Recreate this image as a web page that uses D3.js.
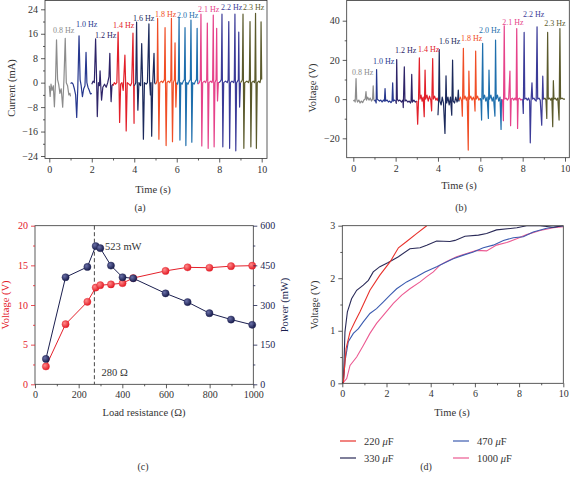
<!DOCTYPE html>
<html><head><meta charset="utf-8">
<script src="https://cdn.jsdelivr.net/npm/d3@7"></script>
<style>
body{margin:0;background:#fff}
svg{display:block}
text{font-family:"Liberation Serif","DejaVu Serif",serif;fill:#333}
</style></head>
<body><svg id="fig" width="570" height="478"></svg>
<script>
// ---------- shared ----------
const freqLabels = ["0.8 Hz","1.0 Hz","1.2 Hz","1.4 Hz","1.6 Hz","1.8 Hz","2.0 Hz","2.1 Hz","2.2 Hz","2.3 Hz"];
const segColors = ["#8c8c8c","#27388f","#2e2468","#e2202a","#1c2a5c","#f04e26","#1f6fad","#e6428a","#3b3b98","#5b5a2c"];

// ---------- (a) current waveforms, [time s, current mA] per frequency ----------
const currentWave = [
 [[0,-1],[0.04,-4.5],[0.08,-0.5],[0.13,-2.5],[0.19,-1],[0.24,-7.9],[0.29,0],[0.34,14],[0.39,1],[0.44,-0.5],[0.5,-3.5],[0.56,-2],[0.63,-8],[0.69,1],[0.75,14.5],[0.8,0],[0.86,-1],[0.92,-4],[0.97,-3.5],[1.0,-4.5]],
 [[1.0,-0.3],[1.06,0],[1.12,-0.5],[1.18,-2],[1.24,-4],[1.29,-11.4],[1.34,-2],[1.4,15.3],[1.45,1],[1.5,-1],[1.56,-4.6],[1.62,-2],[1.68,-1],[1.73,9.9],[1.77,0],[1.82,-1.5],[1.88,-2.5],[1.94,-3.7],[2.0,-3.5]],
 [[2.0,-0.5],[2.06,0.5],[2.12,0],[2.18,14.3],[2.23,0],[2.26,-11.1],[2.31,0],[2.36,-1],[2.39,3.9],[2.43,-2],[2.46,-5.7],[2.52,-1.5],[2.6,-0.5],[2.68,-1.5],[2.75,0],[2.81,2],[2.85,9.6],[2.88,0],[2.91,-6.2],[2.95,-1],[3.0,-0.5]],
 [[3.0,-1],[3.06,0],[3.12,-0.5],[3.18,0],[3.24,16.5],[3.28,1],[3.31,-13],[3.36,-0.5],[3.42,0],[3.48,-2.5],[3.56,9],[3.59,1],[3.62,-15.8],[3.67,0],[3.75,-0.5],[3.82,-1],[3.88,0],[3.94,16.2],[3.97,0],[3.99,-13.3],[4.0,-1]],
 [[4.0,-1],[4.04,-0.5],[4.07,0],[4.11,19.8],[4.14,1],[4.17,-9],[4.22,0],[4.3,-1],[4.35,12.8],[4.39,1],[4.43,-18.5],[4.48,0],[4.56,-0.5],[4.62,0],[4.69,19.2],[4.72,1],[4.76,-4],[4.79,0],[4.82,-17.5],[4.87,0],[4.93,9.6],[4.96,0],[5.0,-0.5]],
 [[5.0,-0.5],[5.05,0],[5.08,1],[5.1,21],[5.13,1],[5.16,-18.5],[5.2,0],[5.28,0.5],[5.34,0],[5.42,1],[5.45,18],[5.47,1],[5.5,-20.6],[5.54,0],[5.6,0.5],[5.67,0],[5.72,1],[5.75,21],[5.77,1],[5.8,-19.3],[5.84,0],[5.89,1],[5.92,13],[5.94,1],[5.96,-8],[6.0,0]],
 [[6.0,0],[6.04,-0.5],[6.08,1],[6.11,21.3],[6.13,1],[6.15,-18.8],[6.19,0],[6.25,-0.5],[6.31,0.5],[6.36,1],[6.39,18],[6.41,1],[6.43,-20.6],[6.47,0],[6.53,-0.5],[6.59,0.5],[6.64,1],[6.67,20.5],[6.69,1],[6.71,-19.5],[6.75,0],[6.82,-0.5],[6.88,0.5],[6.93,1],[6.96,17.8],[6.98,1],[7.0,-0.5]],
 [[7.0,-0.5],[7.06,0],[7.11,1],[7.14,22.4],[7.16,1],[7.18,-20.7],[7.22,0],[7.3,0.5],[7.36,0],[7.41,1],[7.44,19.5],[7.46,1],[7.48,-21.5],[7.52,0],[7.6,0.5],[7.66,0],[7.69,1],[7.72,22.1],[7.74,1],[7.76,-21],[7.8,0],[7.85,1],[7.88,17.8],[7.9,1],[7.92,-6],[7.96,0],[8.0,0]],
 [[8.0,0],[8.06,0.5],[8.1,1],[8.13,22.4],[8.15,1],[8.17,-21],[8.21,0],[8.3,0.5],[8.38,0],[8.42,1],[8.45,20],[8.47,1],[8.49,-21.5],[8.53,0],[8.6,0.5],[8.68,0],[8.71,1],[8.74,22.4],[8.76,1],[8.78,-22.3],[8.82,0],[8.87,0.5],[8.9,1],[8.92,16.5],[8.94,1],[8.96,-8],[9.0,0]],
 [[9.0,0],[9.06,0.5],[9.09,1],[9.12,22.4],[9.14,1],[9.16,-21.5],[9.2,0],[9.3,0.5],[9.38,0],[9.42,1],[9.45,20],[9.47,1],[9.49,-21],[9.53,0],[9.6,0.5],[9.66,0],[9.68,1],[9.71,22.7],[9.73,1],[9.75,-21.5],[9.79,0],[9.86,0.5],[9.92,0],[9.95,1],[9.97,19.9],[10.0,1]]
];
const currentTicks = [-24,-16,-8,0,8,16,24];
const timeTicks = [0,2,4,6,8,10];

// ---------- (b) voltage waveforms, [time s, voltage V] ----------
const voltageWave = [
 [[0,-1],[0.05,-0.5],[0.09,-1.5],[0.13,10.5],[0.16,0],[0.2,-1.5],[0.26,-0.5],[0.32,-2],[0.38,-1],[0.44,-1.8],[0.5,-0.5],[0.56,0],[0.6,3.8],[0.63,-0.5],[0.68,1],[0.74,-0.5],[0.8,0.5],[0.86,-1],[0.91,0],[0.94,6.8],[0.97,0],[1.0,-1]],
 [[1.0,-1],[1.04,-0.5],[1.08,-2],[1.1,15.1],[1.13,0],[1.18,-0.5],[1.24,-1],[1.3,-0.5],[1.36,-1.5],[1.42,-0.5],[1.47,-1],[1.5,5.4],[1.53,-1],[1.6,-0.5],[1.66,-1.5],[1.72,-1],[1.78,-1.8],[1.83,-1],[1.86,8.3],[1.89,-1],[1.95,-0.5],[2.0,-1]],
 [[2.0,-1],[2.03,-2.2],[2.05,20.2],[2.08,0],[2.13,-1],[2.2,-0.5],[2.28,-1.5],[2.34,-0.5],[2.36,-4.3],[2.41,16.5],[2.44,-1],[2.5,-0.5],[2.58,-1.5],[2.64,-1],[2.7,-2],[2.73,-1],[2.76,12.6],[2.79,-1.5],[2.86,-0.5],[2.93,-1.5],[3.0,-1]],
 [[3.0,-1],[3.04,-12.8],[3.08,-1],[3.12,21],[3.15,0],[3.2,2],[3.25,-1],[3.3,1],[3.35,-9],[3.39,14.8],[3.42,0],[3.48,2],[3.54,-1],[3.6,1.5],[3.66,-0.5],[3.7,-6],[3.75,20.7],[3.78,0],[3.84,1.5],[3.9,-0.5],[3.96,0.5],[4.0,-1]],
 [[4.0,-8.2],[4.03,-1],[4.06,25.3],[4.09,-1],[4.15,-3],[4.2,1],[4.26,-2],[4.33,-17.5],[4.36,0],[4.38,11.9],[4.41,-2],[4.47,1],[4.53,-3],[4.59,1],[4.65,-8.2],[4.69,19.9],[4.72,-1],[4.78,-2],[4.84,1],[4.9,-1.5],[4.93,-0.5],[4.96,4.6],[4.99,-1],[5.0,-0.5]],
 [[5.0,-0.5],[5.06,1],[5.12,-1],[5.15,-8.7],[5.2,25.9],[5.23,0],[5.28,1.5],[5.34,-0.5],[5.38,1],[5.43,-26],[5.46,14.3],[5.49,0],[5.55,1.5],[5.61,-0.5],[5.67,1],[5.72,-0.5],[5.75,-6.1],[5.78,24.5],[5.81,0],[5.87,1.5],[5.93,-0.5],[6.0,0.5]],
 [[6.0,0.5],[6.03,-1],[6.06,-10.7],[6.11,28.4],[6.14,0],[6.2,2],[6.26,-1],[6.32,1],[6.38,-9.9],[6.41,14.8],[6.44,0],[6.5,2],[6.56,-1],[6.62,1],[6.69,-8.7],[6.72,30.1],[6.75,0],[6.81,2],[6.87,-1],[6.93,1],[6.98,-15.5],[7.0,0]],
 [[7.0,0],[7.05,-0.5],[7.09,-11],[7.13,37.4],[7.16,0],[7.22,0.5],[7.28,-0.5],[7.34,0.5],[7.4,14.3],[7.43,-13.6],[7.46,0],[7.52,0.5],[7.58,-0.5],[7.64,0.5],[7.69,-0.5],[7.72,36],[7.76,-15],[7.79,0],[7.85,0.5],[7.92,-0.5],[8.0,0]],
 [[8.0,0],[8.03,-7.3],[8.07,34],[8.1,0],[8.16,0.5],[8.22,-0.5],[8.28,0.5],[8.33,-1],[8.36,-22.3],[8.4,0],[8.44,8.3],[8.47,0],[8.53,0.5],[8.59,-0.5],[8.64,-1],[8.68,36.9],[8.71,0],[8.77,0.5],[8.83,-0.5],[8.9,-13.3],[8.95,11.7],[8.98,0],[9.0,0]],
 [[9.0,0],[9.05,0.5],[9.1,-0.5],[9.14,-9.9],[9.18,34],[9.21,0],[9.27,0.5],[9.33,-0.5],[9.38,0.5],[9.42,-14.1],[9.45,9.4],[9.48,0],[9.54,0.5],[9.6,-0.5],[9.66,0.5],[9.72,-10.7],[9.76,36],[9.79,0],[9.85,0.5],[9.92,0],[10.0,0]]
];
const voltageTicks = [-20,0,20,40];

// ---------- (c) load resistance ----------
const resistance = [50,140,240,278,299,348,401,450,598,699,799,898,995];
const loadVoltage = [2.25,7.58,10.4,12.2,12.5,12.6,12.75,13.4,14.3,14.75,14.7,14.9,14.96];
const loadPower = [96,405,444,523,515,449,405,401,344,311,269,245,225];
const optimumR = 272;
const resTicks = [0,200,400,600,800,1000];
const loadVTicks = [0,5,10,15,20];
const powerTicks = [0,150,300,450,600];

// ---------- (d) capacitor charging, [time s, voltage V] ----------
const capLabels = ["220 \u03bcF","330 \u03bcF","470 \u03bcF","1000 \u03bcF"];
const capColors = ["#e8322c","#2a2a58","#3c5cb0","#ec5a92"];
const charge220 = [[0,0],[0.05,0.02],[0.17,0.66],[0.35,0.98],[0.57,1.17],[0.8,1.36],[1.25,1.77],[1.7,2.06],[2.16,2.31],[2.54,2.58],[2.91,2.7],[3.36,2.85],[3.82,3.0]];
const charge330 = [[0,0],[0.05,0.02],[0.12,0.98],[0.23,1.36],[0.42,1.61],[0.65,1.77],[0.95,1.87],[1.18,1.96],[1.4,2.12],[1.7,2.22],[2.08,2.3],[2.54,2.41],[3.06,2.56],[3.52,2.58],[3.82,2.63],[4.27,2.71],[4.87,2.7],[5.1,2.72],[5.55,2.8],[6.16,2.82],[6.53,2.85],[6.98,2.92],[7.9,2.96],[8.34,3.0],[8.95,3.0],[9.55,2.97],[10,3.0]];
const charge470 = [[0,0],[0.05,0.03],[0.12,0.41],[0.27,0.79],[0.5,0.95],[0.73,1.04],[0.95,1.17],[1.25,1.33],[1.55,1.42],[1.86,1.55],[2.16,1.68],[2.46,1.8],[2.91,1.93],[3.36,2.03],[3.74,2.12],[4.27,2.22],[4.57,2.28],[5.02,2.37],[5.48,2.44],[5.93,2.5],[6.38,2.58],[6.83,2.63],[7.29,2.72],[7.74,2.77],[8.19,2.79],[8.64,2.88],[9.25,2.95],[10,3.0]];
const charge1000 = [[0,0],[0.05,0.02],[0.2,0.09],[0.35,0.34],[0.65,0.5],[0.95,0.72],[1.25,0.95],[1.55,1.14],[1.93,1.33],[2.31,1.52],[2.69,1.68],[3.06,1.8],[3.52,1.93],[3.82,2.03],[4.12,2.12],[4.42,2.25],[4.72,2.32],[5.17,2.41],[5.63,2.47],[6.08,2.53],[6.53,2.52],[6.98,2.63],[7.44,2.68],[7.89,2.75],[8.34,2.83],[8.95,2.91],[9.55,2.96],[10,2.98]];
const chargeTicksY = [0,1,2,3];

// ================= drawing =================
const svg = d3.select("#fig");
const axisCol = "#333";
const FS = 10;
const SERIF = '"Liberation Serif","DejaVu Serif",serif';

function styleAxis(g, col){
  g.attr("font-family", null);
  g.selectAll("path").attr("stroke", col).attr("stroke-width",0.8);
  g.selectAll("line").attr("stroke", col).attr("stroke-width",0.8);
  g.selectAll("text").attr("font-size",FS).style("font-family",SERIF).style("fill", col);
}
function frame(x0,x1,y0,y1){
  svg.append("rect").attr("x",x0).attr("y",y0).attr("width",x1-x0).attr("height",y1-y0)
     .attr("fill","none").attr("stroke",axisCol).attr("stroke-width",0.8);
}
function minorVals(major){ const r=[]; for(let i=0;i<major.length-1;i++) r.push((major[i]+major[i+1])/2); return r; }
function xAxis(x, y, ticks, minorTicks, fmt){
  const g = svg.append("g").attr("transform",`translate(0,${y})`)
    .call(d3.axisBottom(x).tickValues(ticks).tickSize(4).tickSizeOuter(0).tickPadding(3).tickFormat(fmt||d3.format("d")));
  g.select(".domain").remove(); styleAxis(g, axisCol);
  const m = svg.append("g").attr("transform",`translate(0,${y})`)
    .call(d3.axisBottom(x).tickValues(minorTicks).tickSize(2).tickFormat(""));
  m.select(".domain").remove(); styleAxis(m, axisCol);
}
function yAxis(y, x, ticks, minorTicks, col, right, fmt){
  const ax = right ? d3.axisRight(y) : d3.axisLeft(y);
  const g = svg.append("g").attr("transform",`translate(${x},0)`)
    .call(ax.tickValues(ticks).tickSize(4).tickSizeOuter(0).tickPadding(3).tickFormat(fmt||(d=>d<0?"\u2212"+Math.abs(d):d)));
  g.select(".domain").remove(); styleAxis(g, col);
  const ax2 = right ? d3.axisRight(y) : d3.axisLeft(y);
  const m = svg.append("g").attr("transform",`translate(${x},0)`)
    .call(ax2.tickValues(minorTicks).tickSize(2).tickFormat(""));
  m.select(".domain").remove(); styleAxis(m, col);
}
function label(txt, x, y, opts={}){
  const t = svg.append("text").attr("x",x).attr("y",y).text(txt)
    .attr("font-size",opts.size||10.5).attr("text-anchor",opts.anchor||"middle").style("font-family",SERIF);
  if(opts.rot) t.attr("transform",`rotate(${opts.rot},${x},${y})`);
  if(opts.color) t.style("fill",opts.color);
  return t;
}

// ----- panel (a) -----
{
  const x = d3.scaleLinear().domain([0,10]).range([49.3,261.7]);
  const y = d3.scaleLinear().domain([-24,24]).range([156,9.3]);
  const line = d3.line().x(d=>x(d[0])).y(d=>y(d[1]));
  currentWave.forEach((seg,i)=>{
    svg.append("path").attr("d",line(seg)).attr("fill","none").attr("stroke",segColors[i]).attr("stroke-width",1.2).attr("stroke-linejoin","round");
  });
  frame(45,267,0.5,158.5);
  xAxis(x,158.5,timeTicks,minorVals(timeTicks));
  yAxis(y,45,currentTicks,minorVals(currentTicks),axisCol,false);
  const labX=[0.17,1.26,2.15,3.0,3.94,4.98,6.01,7.0,8.08,9.12], labY=[16.2,18.1,14.6,17.9,20.1,21.5,21.1,23,23.7,23.9];
  freqLabels.forEach((t,i)=>label(t,x(labX[i]),y(labY[i]),{size:8,anchor:"start",color:segColors[i]}));
  label("Current (mA)",15,88,{rot:-90});
  label("Time (s)",153,193);
  label("(a)",140,211,{size:10});
}

// ----- panel (b) -----
{
  const x = d3.scaleLinear().domain([0,10]).range([353.3,565]);
  const y = d3.scaleLinear().domain([-20,40]).range([138.3,20.7]);
  const line = d3.line().x(d=>x(d[0])).y(d=>y(d[1]));
  voltageWave.forEach((seg,i)=>{
    svg.append("path").attr("d",line(seg)).attr("fill","none").attr("stroke",segColors[i]).attr("stroke-width",1.2).attr("stroke-linejoin","round");
  });
  frame(346.7,569.3,0.5,157.7);
  xAxis(x,157.7,timeTicks,minorVals(timeTicks));
  yAxis(y,346.7,voltageTicks,minorVals(voltageTicks),axisCol,false);
  const labX=[-0.06,0.93,1.97,3.06,4.05,5.09,5.94,7.03,8.02,9.02], labY=[12.4,17.9,23.5,24,27.9,29.6,33.7,37.9,41.8,37.4];
  freqLabels.forEach((t,i)=>label(t,x(labX[i]),y(labY[i]),{size:8,anchor:"start",color:segColors[i]}));
  label("Voltage (V)",316,88,{rot:-90});
  label("Time (s)",459,189);
  label("(b)",461,211,{size:10});
}

// ----- panel (c) -----
{
  const x = d3.scaleLinear().domain([0,1000]).range([35,253.3]);
  const yL = d3.scaleLinear().domain([0,20]).range([384.3,225.7]);
  const yR = d3.scaleLinear().domain([0,600]).range([384.3,225.7]);
  const red="#e4202a", navy="#1b1f4f";
  const defs = svg.append("defs");
  [["gRed","#ff8a8a",red],["gNavy","#6a70a8",navy]].forEach(([id,c1,c2])=>{
    const g=defs.append("radialGradient").attr("id",id).attr("cx","35%").attr("cy","35%").attr("r","65%");
    g.append("stop").attr("offset","0%").attr("stop-color",c1);
    g.append("stop").attr("offset","100%").attr("stop-color",c2);
  });
  frame(35,253.3,225.7,384.3);
  svg.append("line").attr("x1",x(optimumR)).attr("x2",x(optimumR)).attr("y1",225.7).attr("y2",384.3)
    .attr("stroke","#333").attr("stroke-width",0.9).attr("stroke-dasharray","4,2.5");
  const vPts = resistance.map((r,i)=>[r,loadVoltage[i]]);
  const pPts = resistance.map((r,i)=>[r,loadPower[i]]);
  svg.append("path").attr("d",d3.line().x(d=>x(d[0])).y(d=>yL(d[1]))(vPts)).attr("fill","none").attr("stroke",red).attr("stroke-width",1);
  svg.append("path").attr("d",d3.line().x(d=>x(d[0])).y(d=>yR(d[1]))(pPts)).attr("fill","none").attr("stroke",navy).attr("stroke-width",1);
  svg.selectAll(".vdot").data(vPts).join("circle").attr("cx",d=>x(d[0])).attr("cy",d=>yL(d[1])).attr("r",3.6).attr("fill","url(#gRed)").attr("stroke",red).attr("stroke-width",0.4);
  svg.selectAll(".pdot").data(pPts).join("circle").attr("cx",d=>x(d[0])).attr("cy",d=>yR(d[1])).attr("r",3.6).attr("fill","url(#gNavy)").attr("stroke",navy).attr("stroke-width",0.4);
  xAxis(x,384.3,resTicks,minorVals(resTicks));
  yAxis(yL,35,loadVTicks,minorVals(loadVTicks),red,false,d=>d);
  yAxis(yR,253.3,powerTicks,minorVals(powerTicks),navy,true,d=>d);
  label("523 mW",105,249.5,{anchor:"start"});
  label("280 \u03a9",101.5,376,{anchor:"start"});
  label("Voltage (V)",9,305,{rot:-90,color:red});
  label("Power (mW)",288,305,{rot:-90,color:navy});
  label("Load resistance (\u03a9)",144,416);
  label("(c)",143,470,{size:10});
}

// ----- panel (d) -----
{
  const x = d3.scaleLinear().domain([0,10]).range([342.3,563.3]);
  const y = d3.scaleLinear().domain([0,3]).range([383.3,225.7]);
  svg.append("clipPath").attr("id","clipD").append("rect").attr("x",342.3).attr("y",225.7).attr("width",221).attr("height",157.6);
  const line = d3.line().x(d=>x(d[0])).y(d=>y(d[1]));
  const series=[charge220,charge330,charge470,charge1000];
  [3,2,1,0].forEach(i=>{
    svg.append("path").attr("d",line(series[i])).attr("fill","none").attr("stroke",capColors[i]).attr("stroke-width",1.1).attr("clip-path","url(#clipD)");
  });
  frame(342.3,563.3,225.7,383.3);
  xAxis(x,383.3,timeTicks,minorVals(timeTicks));
  yAxis(y,342.3,chargeTicksY,minorVals(chargeTicksY),axisCol,false,d=>d);
  label("Voltage (V)",318,305,{rot:-90});
  label("Time (s)",452,416);
  // legend
  const lx=[340,453], ly=[441,458];
  capLabels.forEach((t,i)=>{
    const col = i===0||i===1?0:1, row = i%2;
    const xx=lx[col], yy=ly[row];
    svg.append("line").attr("x1",xx).attr("x2",xx+16).attr("y1",yy).attr("y2",yy).attr("stroke",capColors[i]).attr("stroke-width",1.2);
    const parts=t.split(" ");
    const tx=svg.append("text").attr("x",xx+24).attr("y",yy+3.5).attr("font-size",10.5).style("font-family",SERIF);
    tx.append("tspan").text(parts[0]+" ");
    tx.append("tspan").attr("font-style","italic").text("\u03bc");
    tx.append("tspan").text("F");
  });
  label("(d)",426,470,{size:10});
}
</script></body></html>
